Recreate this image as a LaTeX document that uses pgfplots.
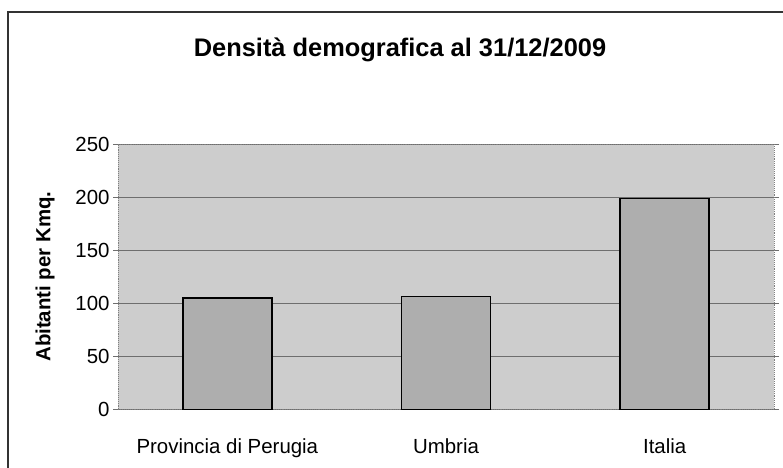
\documentclass[border=0pt]{standalone}
\usepackage{fontspec}
\setmainfont{Liberation Sans}
\usepackage{pgfplots}
\pgfplotsset{compat=1.18}
\definecolor{plotbg}{RGB}{205,205,205}
\definecolor{barfill}{RGB}{174,174,174}
\definecolor{gridc}{RGB}{110,110,110}
\begin{document}
\begin{tikzpicture}[x=1bp,y=1bp]
\useasboundingbox (0,0) rectangle (783,468);
\draw[line width=1.2bp, black!80] (8,0) -- (8,456) -- (783,456);
\begin{axis}[
  at={(118bp,58.7bp)}, anchor=south west,
  scale only axis, width=656bp, height=265.3bp,
  xmin=-0.5, xmax=2.5, ymin=0, ymax=250,
  ytick={0,50,100,150,200,250},
  xtick={0,1,2},
  xticklabels={Provincia di Perugia, Umbria, Italia},
  ybar, bar width=89bp,
  axis background/.style={fill=plotbg},
  ymajorgrids, grid style={gridc, line width=0.8bp},
  axis line style={draw=gray, line width=0.9bp, densely dotted},
  tick align=outside, major tick length=5bp,
  xtick style={draw=none},
  ytick style={draw=gridc, line width=0.8bp, solid},
  /pgf/number format/assume math mode=true,
  ticklabel style={font=\fontsize{20.5}{22}\selectfont},
  xticklabel style={font=\fontsize{20.5}{22}\selectfont, anchor=base, yshift=-39.7bp},
  yticklabel style={anchor=east},
  ylabel={Abitanti per Kmq.},
  ylabel style={font=\bfseries\fontsize{20.5}{22}\selectfont, at={(axis description cs:-0.111,0.5)}, anchor=center},
]
\addplot[fill=barfill, draw=black, line width=1.5bp] coordinates {(0,104.8) (1,106.1) (2,198.5)};
\end{axis}
\node[anchor=base, font=\bfseries\fontsize{25.5}{28}\selectfont] at (400,411) {Densità demografica al 31/12/2009};
\end{tikzpicture}
\end{document}
